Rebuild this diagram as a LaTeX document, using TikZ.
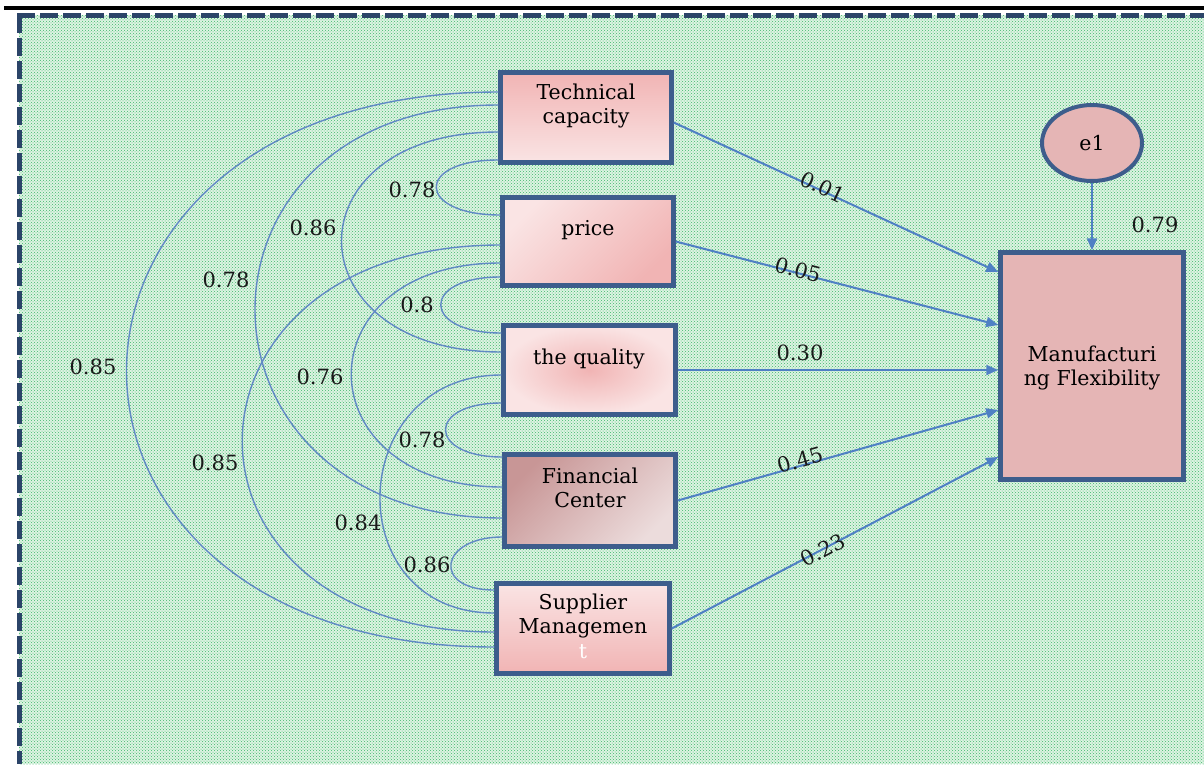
\documentclass[tikz,border=0pt]{standalone}
\usepackage{fontspec}
\setmainfont{DejaVu Serif}
\usetikzlibrary{arrows.meta,patterns,shapes.geometric}
\definecolor{navy}{HTML}{3D5D8C}
\definecolor{dashnavy}{HTML}{2B4468}
\definecolor{curvecol}{HTML}{6089C4}
\definecolor{arrowcol}{HTML}{4F80C4}
\definecolor{mint}{HTML}{DDF3E2}
\definecolor{dotgreen}{HTML}{3DB86A}
\definecolor{mfpink}{HTML}{E5B5B5}
\definecolor{pinkA}{HTML}{F1B4B4}
\definecolor{pinkB}{HTML}{FAE4E4}
\definecolor{fcA}{HTML}{ECDCDC}
\definecolor{fcB}{HTML}{C89696}
\begin{document}
\begin{tikzpicture}[x=1pt,y=-1pt,
  box/.style={draw=navy, line width=4.5pt, inner sep=0pt},
  txt/.style={font=\fontsize{20.5}{24}\selectfont, align=center, inner sep=0pt, text=black},
  lab/.style={font=\fontsize{21}{24}\selectfont, inner sep=0pt, text=black!90},
  cov/.style={draw=curvecol, line width=1.4pt},
  reg/.style={draw=arrowcol, line width=2pt, -{Triangle[length=12pt,width=10pt]}}]
\useasboundingbox (0,0) rectangle (1204,764);
% background
\fill[white] (0,0) rectangle (1204,764);
\fill[mint] (19,15) rectangle (1204,764);
\fill[pattern=crosshatch dots, pattern color=dotgreen] (19,15) rectangle (1204,764);
% borders
\draw[black, line width=3.5pt] (4,8) -- (1204,8);
\draw[dashnavy, line width=5pt, dash pattern=on 18pt off 5pt] (17,15) -- (1204,15);
\draw[dashnavy, line width=5pt, dash pattern=on 18pt off 5pt] (19.5,15) -- (19.5,764);
% boxes
\node[box, minimum width=171pt, minimum height=90pt, top color=pinkA, bottom color=pinkB] (tc) at (586,117.5) {};
\node[box, minimum width=171pt, minimum height=88pt, left color=pinkB, right color=pinkA, shading angle=45] (pr) at (588,241.5) {};
\node[box, minimum width=172pt, minimum height=89pt, inner color=pinkA, outer color=pinkB] (qu) at (589.5,370) {};
\node[box, minimum width=171pt, minimum height=92pt, left color=fcB, right color=fcA, shading angle=45] (fc) at (590,500.5) {};
\node[box, minimum width=173pt, minimum height=90pt, top color=pinkB, bottom color=pinkA] (sm) at (583,628.5) {};
\node[box, fill=mfpink, minimum width=183pt, minimum height=227pt] (mf) at (1092,366) {};
\node[draw=navy, line width=4pt, fill=mfpink, ellipse, minimum width=100pt, minimum height=76pt, inner sep=0pt] (e1) at (1092,143) {};
% covariances
\draw[cov] ([yshift=-42.5pt]tc.west) .. controls +(-84,0) and +(-84,0) .. ([yshift=26.5pt]pr.west);
\draw[cov] ([yshift=-14.5pt]tc.west) .. controls +(-211,0) and +(-211,0) .. ([yshift=18pt]qu.west);
\draw[cov] ([yshift=12.5pt]tc.west) .. controls +(-327,0) and +(-327,0) .. ([yshift=-17.5pt]fc.west);
\draw[cov] ([yshift=25.5pt]tc.west) .. controls +(-493,0) and +(-493,0) .. ([yshift=-18.5pt]sm.west);
\draw[cov] ([yshift=-35.5pt]pr.west) .. controls +(-80,0) and +(-80,0) .. ([yshift=37pt]qu.west);
\draw[cov] ([yshift=-21.5pt]pr.west) .. controls +(-200,0) and +(-200,0) .. ([yshift=13.5pt]fc.west);
\draw[cov] ([yshift=-3.5pt]pr.west) .. controls +(-340,0) and +(-340,0) .. ([yshift=-3.5pt]sm.west);
\draw[cov] ([yshift=-33pt]qu.west) .. controls +(-75,0) and +(-75,0) .. ([yshift=43.5pt]fc.west);
\draw[cov] ([yshift=-5pt]qu.west) .. controls +(-157,0) and +(-157,0) .. ([yshift=15.5pt]sm.west);
\draw[cov] ([yshift=-36.5pt]fc.west) .. controls +(-63,0) and +(-63,0) .. ([yshift=38.5pt]sm.west);
% regressions
\draw[reg] ([yshift=-5pt]tc.east) -- ([yshift=94pt]mf.west);
\draw[reg] (pr.east) -- ([yshift=41pt]mf.west);
\draw[reg] (qu.east) -- (qu.east -| mf.west);
\draw[reg] (fc.east) -- ([yshift=-44pt]mf.west);
\draw[reg] (sm.east) -- ([yshift=-91pt]mf.west);
\draw[reg] (e1.south) -- (mf.north);
% box texts
\node[txt] (tct) at (586,106) {Technical\\capacity};
\node[txt] (prt) at (588,230) {price};
\node[txt] (qut) at (589,359) {the quality};
\node[txt] (fct) at (590,488) {Financial\\Center};
\node[txt] (smt) at (583,616) {Supplier\\Managemen};
\node[txt, text=white] (smt2) at (583,652) {t};
\node[txt] (mft) at (1092,368) {Manufacturi\\ng Flexibility};
\node[txt] (e1t) at (1092,143) {e1};
% regression labels
\node[lab, rotate=-25] (r1) at (823,187) {0.01};
\node[lab, rotate=-15] (r2) at (798,270) {0.05};
\node[lab] (r3) at (800,353) {0.30};
\node[lab, rotate=16] (r4) at (800,460) {0.45};
\node[lab, rotate=28] (r5) at (823,550) {0.23};
\node[lab] (r0) at (1155,225) {0.79};
% covariance labels
\node[lab] (c1) at (412,190) {0.78};
\node[lab] (c2) at (313,228) {0.86};
\node[lab] (c3) at (226,280) {0.78};
\node[lab] (c4) at (93,367) {0.85};
\node[lab] (c5) at (417,305) {0.8};
\node[lab] (c6) at (320,377) {0.76};
\node[lab] (c7) at (215,463) {0.85};
\node[lab] (c8) at (422,440) {0.78};
\node[lab] (c9) at (358,523) {0.84};
\node[lab] (c10) at (427,565) {0.86};
\end{tikzpicture}
\end{document}
